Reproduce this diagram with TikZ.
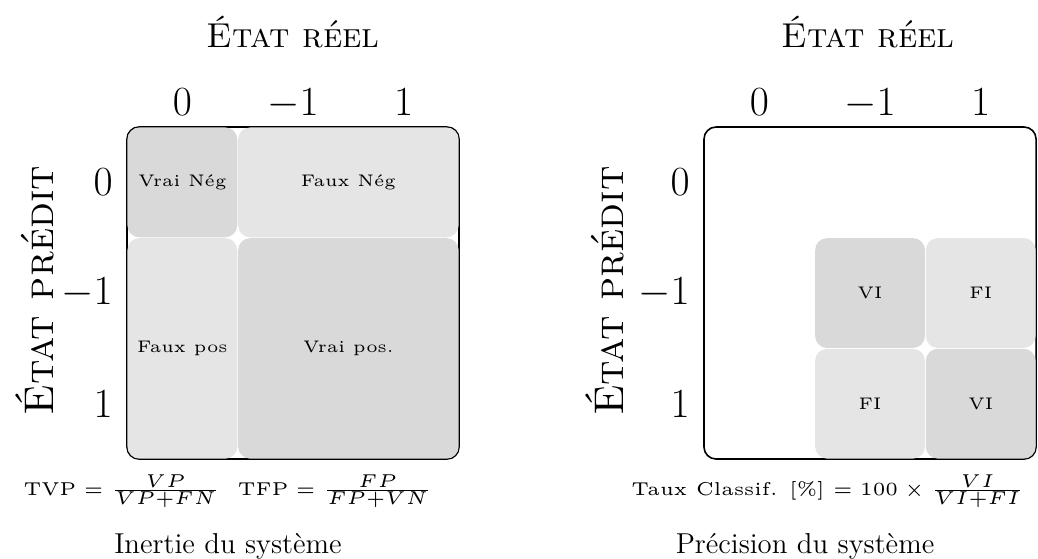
\documentclass[tikz,border=0pt]{standalone}
\usepackage{amsmath}
\usepackage{tikz}
\usetikzlibrary{positioning}

\newcommand{\petit}[1]{\scalebox{1.68}{\tiny #1}}
\newcommand{\formule}[1]{\scalebox{1.86}{\tiny #1}}

\begin{document}
\begin{tikzpicture}[font=\large,
  cell/.style={rounded corners=6pt, inner sep=0pt, minimum width=1.93cm, minimum height=1.93cm},
  dk/.style={cell, fill=black!15},
  lt/.style={cell, fill=black!10},
  lab/.style={font=\huge, inner sep=0pt},
  ttl/.style={font=\LARGE\scshape},
  frame/.style={draw, line width=0.8pt, rounded corners=6pt}]
\useasboundingbox (0,0) rectangle (18.24,9.806);
% left matrix: inertie
\draw[frame] (2.232,1.740) rectangle (8.066,7.574);
\node[dk] (vn) at (3.2045,6.6015) {\petit{Vrai Nég}};
\node[lt, minimum width=3.875cm] (fn) at (6.122,6.6015) {\petit{Faux Nég}};
\node[lt, minimum height=3.875cm] (fp) at (3.2045,3.684) {\petit{Faux pos}};
\node[dk, minimum width=3.875cm, minimum height=3.875cm] (vp) at (6.122,3.684) {\petit{Vrai pos.}};
\node[ttl, anchor=base] (tl) at (5.149,8.98) {État réel};
\node[ttl, font=\huge\scshape, rotate=90] (pl) at (0.61,4.70) {État prédit};
\foreach \v [count=\i] in {0,-1,1} {
  \node[lab, anchor=base] (cl\i) at ({2.232+(\i-0.5)*1.945},7.78) {$\v$};
  \node[lab, anchor=east] (rl\i) at (1.986,{7.574-(\i-0.5)*1.945}) {$\v$};
}
\node[anchor=base, inner sep=0pt] (fl) at (4.007,1.107)
  {\formule{$\text{TVP}=\frac{VP}{VP+FN}$ \ $\text{TFP}=\frac{FP}{FP+VN}$}};
\node[font=\Large, anchor=base] (capl) at (4.007,0.088) {Inertie du système};
% right matrix: precision
\draw[frame] (12.371,1.740) rectangle (18.206,7.574);
\node[dk] (vi1) at (15.2885,4.6565) {\petit{VI}};
\node[lt] (fi1) at (17.2335,4.6565) {\petit{FI}};
\node[lt] (fi2) at (15.2885,2.7115) {\petit{FI}};
\node[dk] (vi2) at (17.2335,2.7115) {\petit{VI}};
\node[ttl, anchor=base] (tr) at (15.253,8.98) {État réel};
\node[ttl, font=\huge\scshape, rotate=90] (pr) at (10.63,4.69) {État prédit};
\foreach \v [count=\i] in {0,-1,1} {
  \node[lab, anchor=base] (cr\i) at ({12.371+(\i-0.5)*1.945},7.78) {$\v$};
  \node[lab, anchor=east] (rr\i) at (12.125,{7.574-(\i-0.5)*1.945}) {$\v$};
}
\node[anchor=base east, inner sep=0pt] (fr) at (18.012,1.107)
  {\formule{Taux Classif. [\%] $=100\times\frac{VI}{VI+FI}$}};
\node[font=\Large, anchor=base] (capr) at (14.146,0.088) {Précision du système};
\end{tikzpicture}
\end{document}
